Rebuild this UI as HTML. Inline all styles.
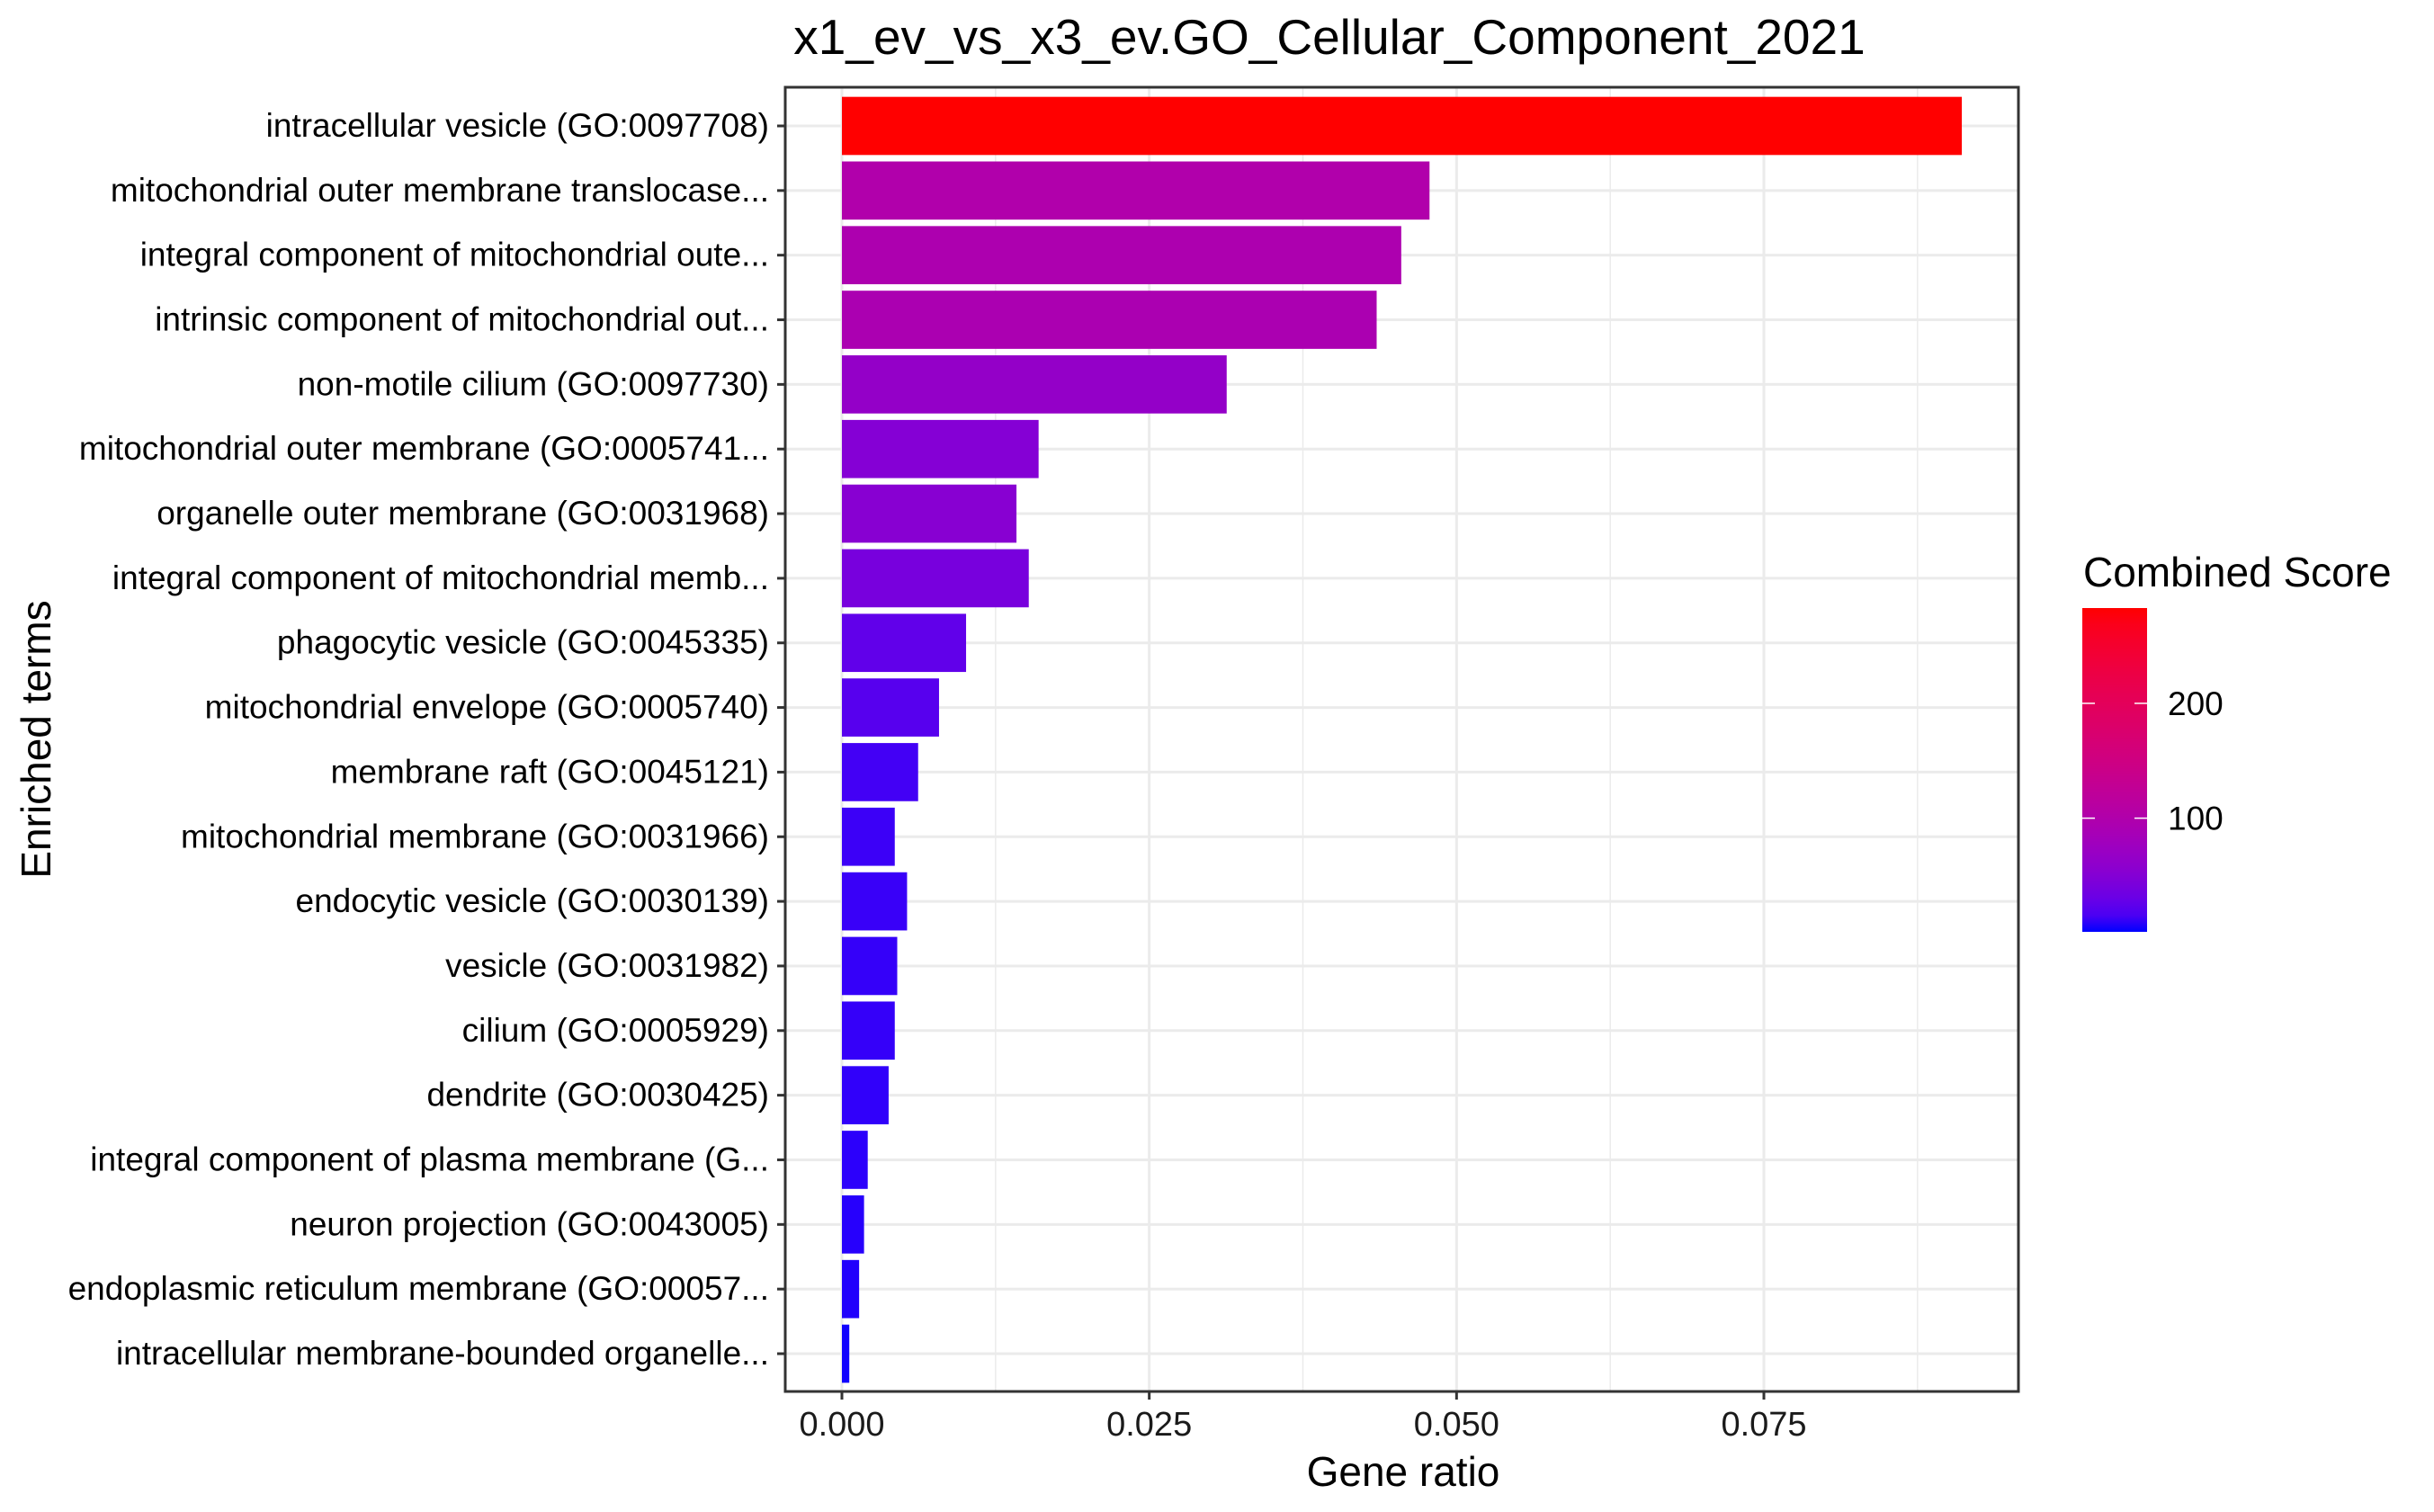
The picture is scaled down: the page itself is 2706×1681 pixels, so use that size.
<!DOCTYPE html>
<html><head><meta charset="utf-8"><style>
html,body{margin:0;padding:0;background:#fff}
svg{display:block;font-family:"Liberation Sans",Arial,sans-serif}
</style></head><body>
<svg id="chart" width="2706" height="1681" viewBox="0 0 2706 1681">
<rect width="2706" height="1681" fill="#fff"/>
<text x="1478" y="60" font-size="55" text-anchor="middle">x1_ev_vs_x3_ev.GO_Cellular_Component_2021</text>
<g id="grid"></g><g id="bars"></g><g id="axes"></g>
<text x="1560" y="1652" font-size="46" text-anchor="middle">Gene ratio</text>
<text transform="translate(56,822) rotate(-90)" font-size="46" text-anchor="middle">Enriched terms</text>
<text x="2316" y="652" font-size="46">Combined Score</text>
<defs><linearGradient id="cg" x1="0" y1="1" x2="0" y2="0"></linearGradient></defs>
<rect x="2315" y="676" width="72" height="360" fill="url(#cg)"/>
<g id="legend"></g>
</svg>
<script>
const terms=["intracellular vesicle (GO:0097708)","mitochondrial outer membrane translocase...","integral component of mitochondrial oute...","intrinsic component of mitochondrial out...","non-motile cilium (GO:0097730)","mitochondrial outer membrane (GO:0005741...","organelle outer membrane (GO:0031968)","integral component of mitochondrial memb...","phagocytic vesicle (GO:0045335)","mitochondrial envelope (GO:0005740)","membrane raft (GO:0045121)","mitochondrial membrane (GO:0031966)","endocytic vesicle (GO:0030139)","vesicle (GO:0031982)","cilium (GO:0005929)","dendrite (GO:0030425)","integral component of plasma membrane (G...","neuron projection (GO:0043005)","endoplasmic reticulum membrane (GO:00057...","intracellular membrane-bounded organelle..."];
const ratios=[0.0911,0.0478,0.0455,0.0435,0.0313,0.0160,0.0142,0.0152,0.0101,0.0079,0.0062,0.0043,0.0053,0.0045,0.0043,0.0038,0.0021,0.0018,0.0014,0.0006];
const scores=[283,100,95,92,65,50,53,40,25,20,12,10,9,8,8,7,6,5,4,2];
const xTicks=[0,0.025,0.05,0.075];
const xTickLabels=["0.000","0.025","0.050","0.075"];
const legendTicks=[100,200];
const scoreMin=1,scoreMax=283;
const NS="http://www.w3.org/2000/svg";
const PL=873,PR=2244,PT=97,PB=1547;
const X0=936,XPER=(1961-936)/0.075;
const x=v=>X0+v*XPER;
const ROW0=140,ROWSTEP=(1505-140)/19;
const y=i=>ROW0+i*ROWSTEP;
function mk(tag,attrs,parent){const e=document.createElementNS(NS,tag);for(const k in attrs)e.setAttribute(k,attrs[k]);parent.appendChild(e);return e;}
function toLin(c){c/=255;return c<=0.04045?c/12.92:Math.pow((c+0.055)/1.055,2.4);}
function toLab(r,g,b){r=toLin(r);g=toLin(g);b=toLin(b);let X=(r*0.4124+g*0.3576+b*0.1805)/0.95047,Y=r*0.2126+g*0.7152+b*0.0722,Z=(r*0.0193+g*0.1192+b*0.9505)/1.08883;const f=t=>t>0.008856?Math.cbrt(t):7.787*t+16/116;return[116*f(Y)-16,500*(f(X)-f(Y)),200*(f(Y)-f(Z))];}
function fromLab(L,a,bb){const fy=(L+16)/116,fx=fy+a/500,fz=fy-bb/200;const fi=t=>t**3>0.008856?t**3:(t-16/116)/7.787;let X=fi(fx)*0.95047,Y=fi(fy),Z=fi(fz)*1.08883;let r=X*3.2406-Y*1.5372-Z*0.4986,g=-X*0.9689+Y*1.8758+Z*0.0415,b=X*0.0557-Y*0.2040+Z*1.0570;const g2=c=>{c=c<=0.0031308?12.92*c:1.055*Math.pow(c,1/2.4)-0.055;return Math.round(Math.max(0,Math.min(1,c))*255);};return`rgb(${g2(r)},${g2(g)},${g2(b)})`;}
const LB=toLab(0,0,255),LR=toLab(255,0,0);
function col(s){const t=Math.max(0,Math.min(1,(s-scoreMin)/(scoreMax-scoreMin)));return fromLab(LB[0]+(LR[0]-LB[0])*t,LB[1]+(LR[1]-LB[1])*t,LB[2]+(LR[2]-LB[2])*t);}
const grid=document.getElementById('grid'),bars=document.getElementById('bars'),axes=document.getElementById('axes');
mk('rect',{x:PL,y:PT,width:PR-PL,height:PB-PT,fill:'#fff'},grid);
for(let i=0;i<xTicks.length;i++){const m=xTicks[i]+0.0125;if(x(m)<PR)mk('line',{x1:x(m),x2:x(m),y1:PT,y2:PB,stroke:'#EBEBEB','stroke-width':1.5},grid);}
for(let i=0;i<xTicks.length;i++){mk('line',{x1:x(xTicks[i]),x2:x(xTicks[i]),y1:PT,y2:PB,stroke:'#EBEBEB','stroke-width':3},grid);}
for(let i=0;i<terms.length;i++){mk('line',{x1:PL,x2:PR,y1:y(i),y2:y(i),stroke:'#EBEBEB','stroke-width':3},grid);}
const bh=ROWSTEP*0.9;
for(let i=0;i<terms.length;i++){
const r=mk('rect',{x:x(0),y:y(i)-bh/2,width:x(ratios[i])-x(0),height:bh,fill:col(scores[i])},bars);


const t=mk('text',{x:855,y:y(i)+12,'font-size':37,'text-anchor':'end'},axes);t.textContent=terms[i];


mk('line',{x1:864,x2:PL,y1:y(i),y2:y(i),stroke:'#333','stroke-width':3},axes);
}
mk('rect',{x:PL,y:PT,width:PR-PL,height:PB-PT,fill:'none',stroke:'#333','stroke-width':3},axes);
for(let i=0;i<xTicks.length;i++){
mk('line',{x1:x(xTicks[i]),x2:x(xTicks[i]),y1:PB,y2:PB+9,stroke:'#333','stroke-width':3},axes);
const t=mk('text',{x:x(xTicks[i]),y:1596,'font-size':38,'text-anchor':'middle','fill':'#1a1a1a'},axes);t.textContent=xTickLabels[i];


}
const cg=document.getElementById('cg');
for(let k=0;k<=20;k++){mk('stop',{offset:k/20,'stop-color':col(scoreMin+(scoreMax-scoreMin)*k/20)},cg);}
const lg=document.getElementById('legend');
const LT=676,LBt=1036,ly=v=>LBt-(v-scoreMin)/(scoreMax-scoreMin)*(LBt-LT);
for(let i=0;i<legendTicks.length;i++){const yy=ly(legendTicks[i]);
mk('line',{x1:2315,x2:2329,y1:yy,y2:yy,stroke:'#fff','stroke-width':1.5},lg);
mk('line',{x1:2373,x2:2387,y1:yy,y2:yy,stroke:'#fff','stroke-width':1.5},lg);
const t=mk('text',{x:2410,y:yy+13,'font-size':37},lg);t.textContent=legendTicks[i];

}
</script>
</body></html>
